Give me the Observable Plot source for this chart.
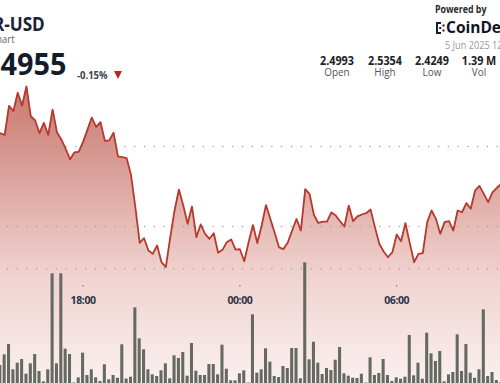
<!DOCTYPE html>
<html><head><meta charset="utf-8">
<script src="https://cdn.jsdelivr.net/npm/d3@7"></script>
<script src="https://cdn.jsdelivr.net/npm/@observablehq/plot@0.6"></script>
<style>
body{margin:0;background:#fff;font-family:"Open Sans",sans-serif;}
#wrap{position:relative;width:500px;height:383px;overflow:hidden;}
#wrap svg.layer{position:absolute;left:0;top:0;}
.abs{position:absolute;white-space:nowrap;line-height:1;}
.r{transform-origin:right center;transform:scaleX(0.9);text-align:right;}
.l{transform-origin:left center;transform:scaleX(0.9);}
.c{transform-origin:center center;transform:scaleX(0.9);text-align:center;width:60px;}
</style></head><body>
<div id="wrap">
  <div id="chart"></div>
  <div class="abs r" style="right:455px;top:15px;font-size:19px;font-weight:700;color:#1b2232;">NEAR-USD</div>
  <div class="abs r" style="right:485px;top:33.5px;font-size:10.5px;color:#666;">NEAR Chart</div>
  <div class="abs r" style="right:434px;top:47.6px;font-size:31px;font-weight:700;color:#141c2c;transform:scaleX(0.93);">2.4955</div>
  <div class="abs l" style="left:77px;top:70px;font-size:10.5px;font-weight:700;color:#3a3f48;">-0.15%</div>
  <div class="abs" style="left:114px;top:71px;width:0;height:0;border-left:4.5px solid transparent;border-right:4.5px solid transparent;border-top:8px solid #b3291f;"></div>
  <div class="abs l" style="left:435px;top:5.3px;font-size:9.8px;font-weight:700;color:#2a2a2a;">Powered by</div>
  <svg class="abs" style="left:436px;top:22px" width="9" height="12"><g fill="#1a1a24"><rect x="0" y="0" width="2" height="12"/><rect x="0" y="0" width="5" height="2"/><rect x="0" y="10" width="5" height="2"/><rect x="6.5" y="2.5" width="2" height="2"/><rect x="6.5" y="7.5" width="2" height="2"/><rect x="3.2" y="5" width="2" height="2"/></g></svg>
  <div class="abs" style="left:446px;top:19.6px;font-size:15.5px;font-weight:700;color:#14141f;">CoinDesk</div>
  <div class="abs l" style="left:445px;top:40.4px;font-size:10.2px;color:#9a9a9a;">5 Jun 2025 12:10 UTC</div>
  <div id="stats"></div>
</div>
<script>
// ---- data ----
const startTime = Date.UTC(2025, 5, 4, 14, 50); // first 10-minute sample
const stepMinutes = 10;
const price = [2.5083,2.5073,2.5254,2.5221,2.5336,2.5256,2.5375,2.5189,2.5163,2.5083,
2.5148,2.5073,2.5231,2.5089,2.5044,2.4986,2.4919,2.4963,2.4967,2.5029,
2.5104,2.5181,2.5123,2.5152,2.5036,2.5038,2.5086,2.4939,2.4933,2.4927,
2.4823,2.4621,2.4398,2.4427,2.4350,2.4329,2.4381,2.4277,2.4246,2.4431,
2.4600,2.4731,2.4631,2.4517,2.4625,2.4433,2.4513,2.4454,2.4423,2.4458,
2.4336,2.4354,2.4402,2.4419,2.4356,2.4358,2.4283,2.4402,2.4509,2.4397,
2.4506,2.4634,2.4547,2.4459,2.4369,2.4359,2.4400,2.4475,2.4547,2.4475,
2.4734,2.4703,2.4572,2.4522,2.4531,2.4531,2.4588,2.4569,2.4533,2.4500,
2.4631,2.4533,2.4563,2.4575,2.4583,2.4606,2.4496,2.4392,2.4344,2.4308,
2.4339,2.4450,2.4408,2.4521,2.4396,2.4277,2.4329,2.4333,2.4527,2.4600,
2.4548,2.4454,2.4527,2.4533,2.4475,2.4600,2.4589,2.4646,2.4611,2.4725,
2.4754,2.4704,2.4652,2.4714,2.4742,2.4767];
const volume = [18,28.7,39,13.7,20.3,24,9.3,19.7,29,12,
1.7,13.7,109.7,19.7,109.7,34.3,29,0.5,5.7,30.3,
8,13.7,5.7,2,18.7,3.7,8,5.3,38.7,4.5,
6.3,75.7,44.7,33.7,13.7,8.7,7,12.7,19.7,4.7,
27.7,25,31,7.3,40,12.3,8,8,19,19,
8.7,38.3,14.3,2.7,2.7,9.7,12.7,0.5,68.7,10.3,
13.7,34.7,21.3,7,6,17,15,35,35,4.7,
120.7,23.7,41.3,20.3,9,15,13,23.3,36,9.7,
7.3,5.3,5,9.3,0.5,25.7,8,10,24,8,
2,5.7,4.3,6.3,48,7.7,20.3,4.3,50.3,29.7,
22,32,1.7,8.7,11,48.7,12,39,10.3,5.3,
13.7,73.7,7,11,3,1];
const tickLabels = ["2025-06-04T18:00Z", "2025-06-05T00:00Z", "2025-06-05T06:00Z"];
const gridPrices = [2.50, 2.45, 2.4236];
const statValues = ["2.4993", "2.5354", "2.4249", "1.39 M"];
const statNames = ["Open", "High", "Low", "Vol"];

// ---- build ----
const MIN = 60000;
const rows = price.map((p, i) => ({
  time: new Date(startTime + i * stepMinutes * MIN),
  price: p,
  volume: volume[i]
}));
const ticks = tickLabels.map(s => new Date(s));
const t18 = ticks[0].getTime();
const xDomain = [new Date(t18 - 189.6 * MIN), new Date(t18 + 958.3 * MIN)];
const yDomain = [2.351875, 2.59125];
const W = 500, H = 383;

const priceSvg = Plot.plot({
  width: W, height: H,
  marginTop: 0, marginBottom: 0, marginLeft: 0, marginRight: 0,
  style: {background: "transparent", fontFamily: "Open Sans"},
  x: {type: "utc", domain: xDomain, axis: null},
  y: {domain: yDomain, axis: null},
  marks: [
    Plot.areaY(rows, {x: "time", y1: yDomain[0], y2: "price", fill: "url(#areaFill)"}),
    Plot.ruleY(gridPrices, {stroke: "#9a9a9a", strokeWidth: 1.4, strokeLinecap: "round", strokeDasharray: "0 9.8", strokeDashoffset: 2.5}),
    Plot.lineY(rows, {x: "time", y: "price", stroke: "#b5392d", strokeWidth: 1.8, strokeLinejoin: "round"}),
    Plot.axisX({anchor: "bottom", ticks: ticks, dy: -98, tickSize: 1.5, tickPadding: 10,
      tickFormat: d3.utcFormat("%H:%M"), fontSize: 10.5, fontWeight: 700, fill: "#2b3444", stroke: "#666"})
  ]
});
priceSvg.classList.add("layer");
const defs = d3.select(priceSvg).insert("defs", ":first-child");
const grad = defs.append("linearGradient").attr("id", "areaFill")
  .attr("gradientUnits", "userSpaceOnUse").attr("x1", 0).attr("x2", 0).attr("y1", 85).attr("y2", 383);
[[0, "#c7796f"], [0.2, "#d4938b"], [0.45, "#e5b8b3"], [0.65, "#f0d4d1"], [1, "#faf0f0"]]
  .forEach(([o, c]) => grad.append("stop").attr("offset", o).attr("stop-color", c));
d3.select(priceSvg).selectAll("text").style("letter-spacing", "-0.4px");

const volSvg = Plot.plot({
  width: W, height: H,
  marginTop: 0, marginBottom: 0, marginLeft: 0, marginRight: 0,
  style: {background: "transparent"},
  x: {type: "utc", domain: xDomain, axis: null},
  y: {domain: [0, H], axis: null},
  marks: [
    Plot.rectY(rows, {
      x1: d => new Date(d.time.getTime() - 5 * MIN),
      x2: d => new Date(d.time.getTime() + 5 * MIN),
      y: "volume", fill: "#656962", insetLeft: 0.65, insetRight: 0.65
    })
  ]
});
volSvg.classList.add("layer");

const chart = document.getElementById("chart");
chart.appendChild(priceSvg);
chart.appendChild(volSvg);

const centers = [337, 385, 432, 479];
const stats = document.getElementById("stats");
statValues.forEach((v, i) => {
  const a = document.createElement("div");
  a.className = "abs c";
  a.style.cssText = `left:${centers[i] - 30}px;top:54.9px;font-size:12px;font-weight:700;color:#222;`;
  a.textContent = v;
  stats.appendChild(a);
  const b = document.createElement("div");
  b.className = "abs c";
  b.style.cssText = `left:${centers[i] - 30}px;top:66.4px;font-size:11px;color:#555;`;
  b.textContent = statNames[i];
  stats.appendChild(b);
});
</script>
</body></html>
